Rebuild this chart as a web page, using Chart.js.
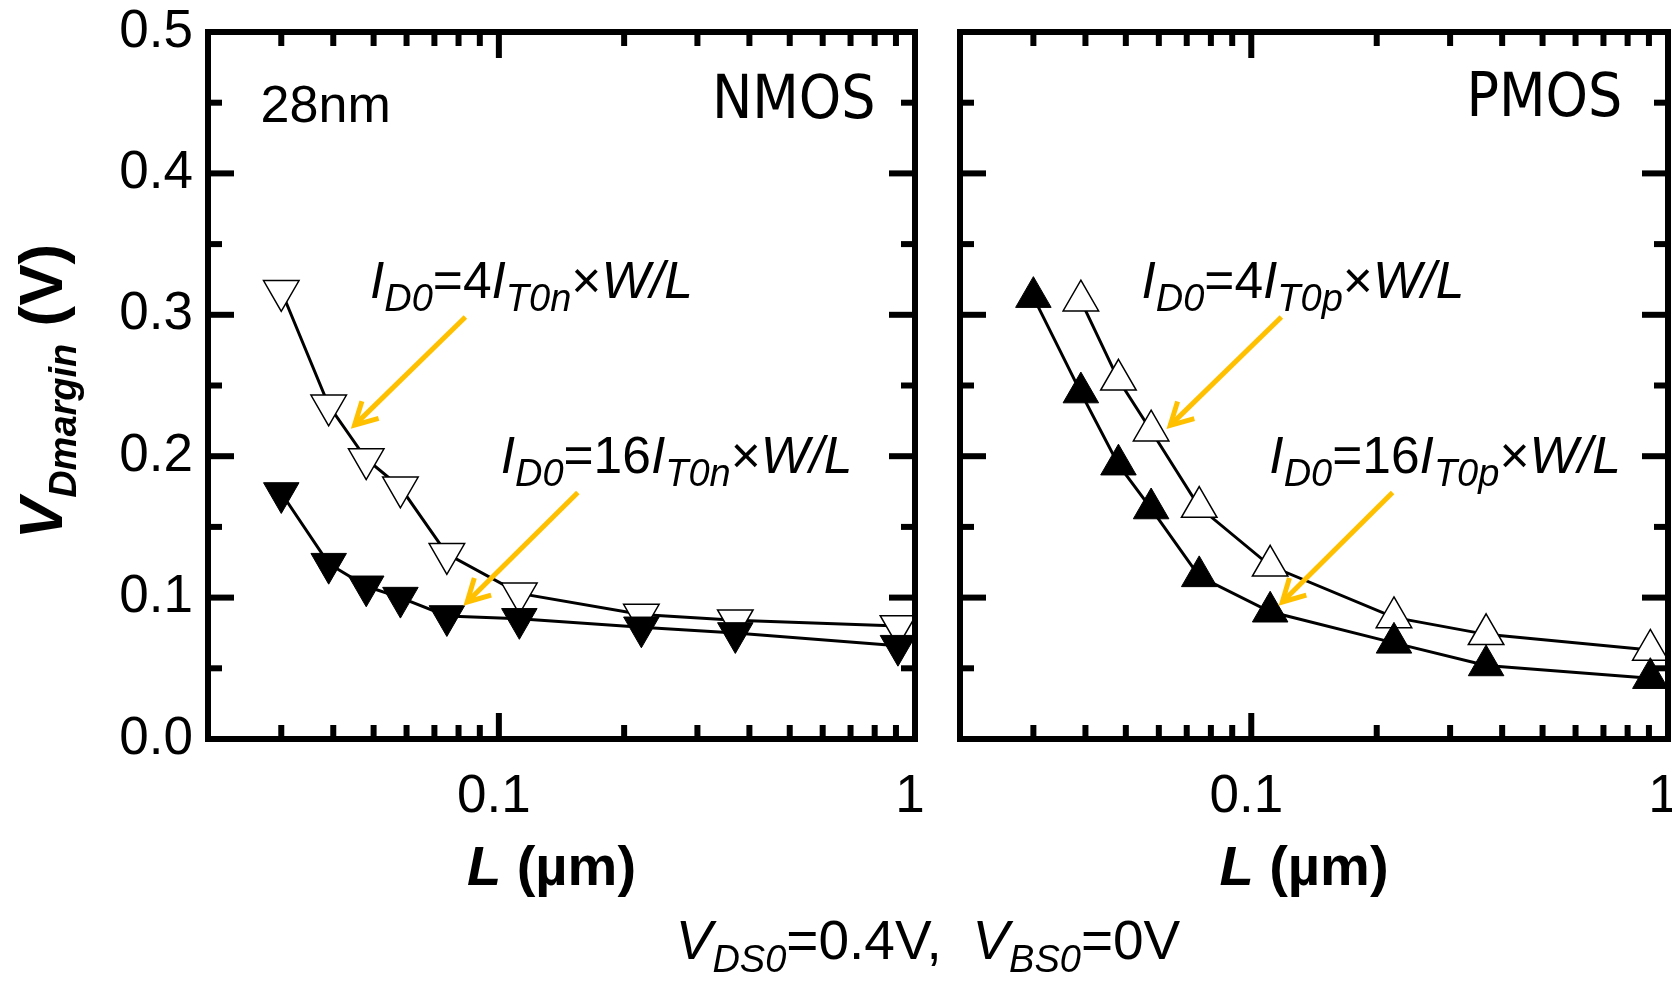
<!DOCTYPE html>
<html>
<head>
<meta charset="utf-8">
<script src="https://cdn.jsdelivr.net/npm/chart.js@4.4.1/dist/chart.umd.min.js"></script>
<style>
  html, body { margin: 0; padding: 0; background: #fff; }
  #wrap { position: relative; width: 1672px; height: 983px; overflow: hidden; background: #fff; }
  #nmosCanvas { position: absolute; left: 0; top: 0; }
  #pmosCanvas { position: absolute; left: 940px; top: 0; }
  #bias {
    position: absolute; left: 0; top: 910px; width: 1856px; text-align: center;
    font: 55px "Liberation Sans", Arial, sans-serif; line-height: 60px; color: #000; white-space: pre;
  }
  #bias i { font-style: italic; }
  #bias .sub { font-size: 38px; font-style: italic; position: relative; top: 13px; }
</style>
</head>
<body>
<div id="wrap">
  <canvas id="nmosCanvas" width="940" height="983"></canvas>
  <canvas id="pmosCanvas" width="732" height="983"></canvas>
  <div id="bias"><i>V</i><span class="sub">DS0</span>=0.4V,  <i>V</i><span class="sub">BS0</span>=0V</div>
</div>
<script>
/* ---------- data ---------- */
// NMOS, same L for both currents
const nmosL    = [0.030, 0.039, 0.048, 0.058, 0.075, 0.112, 0.22, 0.37, 0.91];
const nmosId4  = [0.317, 0.236, 0.198, 0.178, 0.131, 0.103, 0.088, 0.084, 0.080];
const nmosId16 = [0.174, 0.124, 0.108, 0.100, 0.087, 0.085, 0.079, 0.075, 0.066];

// PMOS, the 4x curve starts one point later
const pmosL4   = [0.039, 0.048, 0.0575, 0.075, 0.111, 0.22, 0.366, 0.907];
const pmosId4  = [0.310, 0.254, 0.218, 0.164, 0.1225, 0.086, 0.074, 0.063];
const pmosL16  = [0.030, 0.039, 0.048, 0.0575, 0.075, 0.111, 0.22, 0.366, 0.907];
const pmosId16 = [0.3125, 0.245, 0.194, 0.163, 0.115, 0.090, 0.068, 0.052, 0.043];

// axis ticks
const xLabelTicks = [0.1, 1];
const xMinorTicks = [0.03, 0.04, 0.05, 0.06, 0.07, 0.08, 0.09, 0.2, 0.3, 0.4, 0.5, 0.6, 0.7, 0.8, 0.9];
const yLabelTicks = [0, 0.1, 0.2, 0.3, 0.4, 0.5];
const yMinorTicks = [0.05, 0.15, 0.25, 0.35, 0.45];

/* ---------- helpers ---------- */
const FONT = '"Liberation Sans", Arial, sans-serif';
const ORANGE = '#FFC000';

function pts(xs, ys) {
  return xs.map((x, i) => ({ x: x, y: ys[i] }));
}

// draw a run of differently styled text pieces on one baseline
function drawRich(ctx, parts, x, y, align) {
  let total = 0;
  parts.forEach(p => { ctx.font = p.font; total += ctx.measureText(p.t).width; });
  let cx = align === 'center' ? x - total / 2 : align === 'right' ? x - total : x;
  ctx.textBaseline = 'alphabetic';
  ctx.textAlign = 'left';
  parts.forEach(p => {
    ctx.font = p.font;
    ctx.fillText(p.t, cx, y + (p.dy || 0));
    cx += ctx.measureText(p.t).width;
  });
}

function idLabel(mult, kind) {
  const it = 'italic 51.5px ' + FONT, sub = 'italic 38px ' + FONT, up = '51.5px ' + FONT;
  return [
    { t: 'I', font: it }, { t: 'D0', font: sub, dy: 13 },
    { t: '=' + mult, font: up },
    { t: 'I', font: it }, { t: 'T0' + kind, font: sub, dy: 13 },
    { t: '\u00d7', font: up }, { t: 'W/L', font: it }
  ];
}

// keep the plot area exactly where the layout padding puts it
function noPad(s) {
  s.paddingLeft = 0; s.paddingRight = 0; s.paddingTop = 0; s.paddingBottom = 0;
}

/* ---------- plugins ---------- */
const frameTicks = {
  id: 'frameTicks',
  afterDatasetsDraw(chart) {
    const { ctx, chartArea: a, scales: { x, y } } = chart;
    ctx.save();
    ctx.strokeStyle = '#000';
    ctx.lineWidth = 6;
    ctx.lineCap = 'butt';
    const seg = (x1, y1, x2, y2) => { ctx.beginPath(); ctx.moveTo(x1, y1); ctx.lineTo(x2, y2); ctx.stroke(); };
    const xt = (vals, len) => vals.forEach(v => {
      const p = x.getPixelForValue(v);
      seg(p, a.bottom, p, a.bottom - len);
      seg(p, a.top, p, a.top + len);
    });
    const yt = (vals, len) => vals.forEach(v => {
      const p = y.getPixelForValue(v);
      seg(a.left, p, a.left + len, p);
      seg(a.right, p, a.right - len, p);
    });
    xt(xLabelTicks, 26); xt(xMinorTicks, 14);
    yt(yLabelTicks, 26); yt(yMinorTicks, 14);
    ctx.strokeRect(a.left, a.top, a.right - a.left, a.bottom - a.top);
    ctx.restore();
  }
};

const notes = {
  id: 'notes',
  afterDraw(chart, args, opts) {
    const { ctx, chartArea: a, scales: { x, y } } = chart;
    ctx.save();
    ctx.fillStyle = '#000';
    (opts.arrows || []).forEach(ar => {
      const x1 = x.getPixelForValue(ar.from[0]), y1 = y.getPixelForValue(ar.from[1]);
      const x2 = x.getPixelForValue(ar.to[0]), y2 = y.getPixelForValue(ar.to[1]);
      const ang = Math.atan2(y1 - y2, x1 - x2);
      ctx.strokeStyle = ORANGE;
      ctx.lineWidth = 5;
      ctx.lineCap = 'butt';
      ctx.beginPath(); ctx.moveTo(x1, y1); ctx.lineTo(x2, y2); ctx.stroke();
      ctx.lineJoin = 'miter';
      ctx.beginPath();
      ctx.moveTo(x2 + 25 * Math.cos(ang - 0.5), y2 + 25 * Math.sin(ang - 0.5));
      ctx.lineTo(x2, y2);
      ctx.lineTo(x2 + 25 * Math.cos(ang + 0.5), y2 + 25 * Math.sin(ang + 0.5));
      ctx.stroke();
    });
    (opts.texts || []).forEach(tx => {
      drawRich(ctx, tx.parts, x.getPixelForValue(tx.at[0]), y.getPixelForValue(tx.at[1]), tx.align);
    });
    // x axis title
    drawRich(ctx, [
      { t: 'L', font: 'italic bold 56px ' + FONT },
      { t: ' (\u00b5m)', font: 'bold 56px ' + FONT }
    ], (a.left + a.right) / 2 - 10, 885, 'center');
    // y axis title (left panel only)
    if (opts.yTitle) {
      ctx.translate(62, (a.top + a.bottom) / 2 + 6);
      ctx.rotate(-Math.PI / 2);
      drawRich(ctx, [
        { t: 'V', font: 'italic bold 62px ' + FONT },
        { t: 'Dmargin', font: 'italic bold 38px ' + FONT, dy: 14 },
        { t: ' (V)', font: 'bold 62px ' + FONT }
      ], 0, 0, 'center');
    }
    ctx.restore();
  }
};

/* ---------- chart builder ---------- */
function makePanel(canvasId, datasets, cfg) {
  const ctx = document.getElementById(canvasId);
  return new Chart(ctx, {
    type: 'line',
    data: { datasets: datasets },
    options: {
      responsive: false,
      animation: false,
      devicePixelRatio: 1,
      layout: { autoPadding: false, padding: { left: 0, top: 32, right: cfg.padRight, bottom: 0 } },
      plugins: {
        legend: { display: false },
        tooltip: { enabled: false },
        notes: { texts: cfg.texts, arrows: cfg.arrows, yTitle: cfg.yTitle }
      },
      scales: {
        x: {
          type: 'logarithmic',
          min: 0.02, max: 1,
          grid: { display: false, drawTicks: false },
          border: { display: false },
          afterBuildTicks: s => { s.ticks = xLabelTicks.map(v => ({ value: v })); },
          afterFit: s => { s.height = 244; noPad(s); },
          ticks: {
            autoSkip: false, maxRotation: 0, padding: 27, labelOffset: -5, color: '#000',
            font: { family: FONT, size: 53 },
            callback: v => String(v)
          }
        },
        y: {
          min: 0, max: 0.5,
          grid: { display: false, drawTicks: false },
          border: { display: false },
          afterBuildTicks: s => { s.ticks = yLabelTicks.map(v => ({ value: v })); },
          afterFit: s => { s.width = cfg.yWidth; noPad(s); },
          ticks: {
            display: cfg.yLabels, padding: 15, color: '#000',
            font: { family: FONT, size: 53 },
            callback: v => v.toFixed(1)
          }
        }
      }
    },
    plugins: [frameTicks, notes]
  });
}

function series(data, filled, rotation) {
  return {
    data: data,
    borderColor: '#000',
    borderWidth: 3,
    tension: 0,
    pointStyle: 'triangle',
    pointRotation: rotation,
    pointRadius: 20.5,
    pointBorderWidth: filled ? 1 : 1.5,
    pointBorderColor: '#000',
    pointBackgroundColor: filled ? '#000' : '#fff',
    clip: 10
  };
}

const labelFont = '60px "Liberation Sans Narrow", "DejaVu Sans Condensed", ' + FONT;

/* NMOS panel (left) */
makePanel('nmosCanvas', [
  series(pts(nmosL, nmosId16), true, 180),
  series(pts(nmosL, nmosId4), false, 180)
], {
  padRight: 25, yWidth: 208, yLabels: true, yTitle: true,
  texts: [
    { at: [0.02676, 0.4364], align: 'left', parts: [{ t: '28nm', font: '52px ' + FONT }] },
    { at: [0.8042, 0.4392], align: 'right', parts: [{ t: 'NMOS', font: labelFont }] },
    { at: [0.0490, 0.3119], align: 'left', parts: idLabel('4', 'n') },
    { at: [0.1010, 0.1881], align: 'left', parts: idLabel('16', 'n') }
  ],
  arrows: [
    { from: [0.0831, 0.2984], to: [0.0450, 0.2220] },
    { from: [0.1548, 0.1743], to: [0.0839, 0.0969] }
  ]
});

/* PMOS panel (right) */
makePanel('pmosCanvas', [
  series(pts(pmosL16, pmosId16), true, 0),
  series(pts(pmosL4, pmosId4), false, 0)
], {
  padRight: 4, yWidth: 20, yLabels: false, yTitle: false,
  texts: [
    { at: [0.7772, 0.4406], align: 'right', parts: [{ t: 'PMOS', font: labelFont }] },
    { at: [0.0545, 0.3119], align: 'left', parts: idLabel('4', 'p') },
    { at: [0.1105, 0.1881], align: 'left', parts: idLabel('16', 'p') }
  ],
  arrows: [
    { from: [0.1181, 0.2984], to: [0.0639, 0.2218] },
    { from: [0.2183, 0.1743], to: [0.1187, 0.0969] }
  ]
});
</script>
</body>
</html>
